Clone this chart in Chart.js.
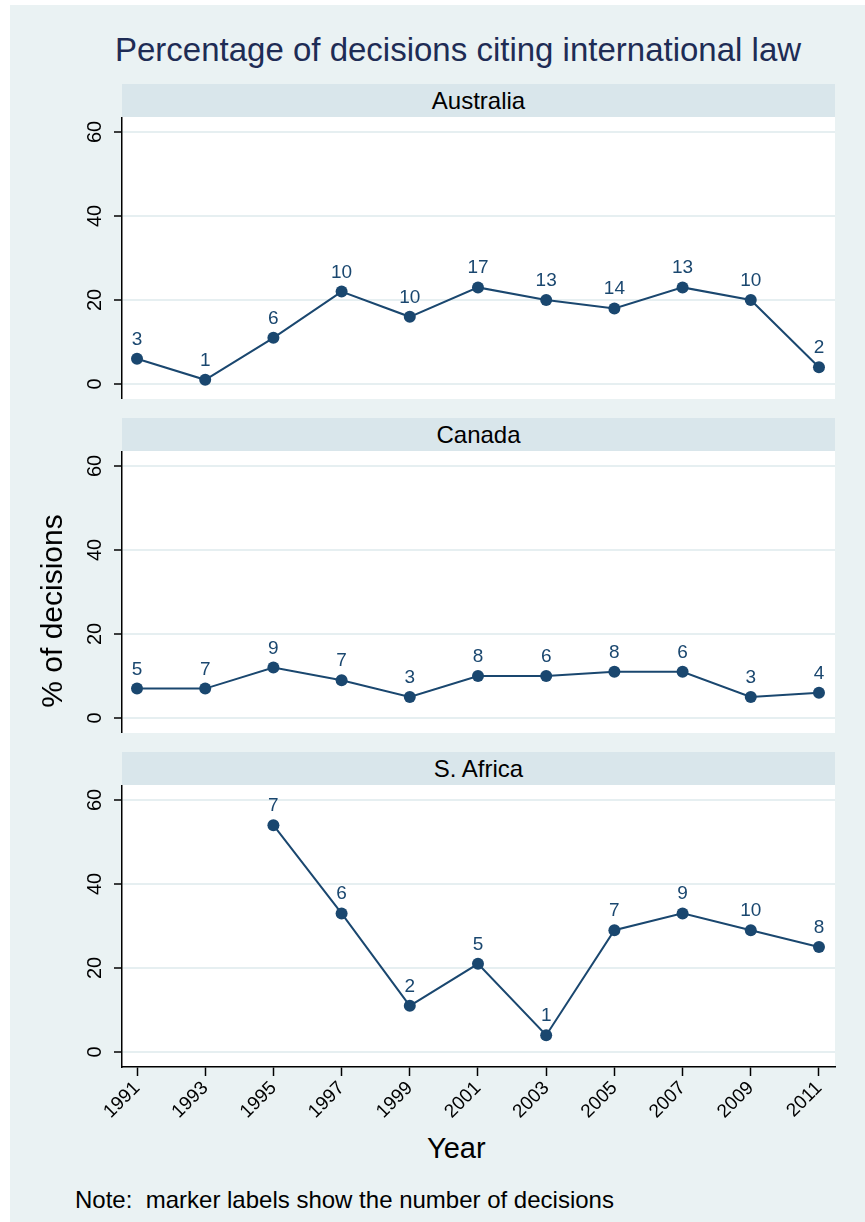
<!DOCTYPE html>
<html>
<head>
<meta charset="utf-8">
<script src="https://cdn.jsdelivr.net/npm/chart.js@4.4.1/dist/chart.umd.min.js"></script>
<style>
  html, body { margin: 0; padding: 0; background: #fff; }
  #page { position: relative; width: 865px; height: 1222px; overflow: hidden; font-family: "Liberation Sans", Arial, sans-serif; }
  #bg { position: absolute; left: 10px; top: 5px; right: 0; bottom: 0; background: #eaf2f3; }
  .txt { position: absolute; white-space: nowrap; line-height: 1; }
  .strip { position: absolute; left: 122px; width: 713px; height: 33px; background: #d9e6eb; text-align: center; line-height: 33px; font-size: 24px; color: #000; }
  canvas { position: absolute; left: 0; }
</style>
</head>
<body>
<div id="page">
  <div id="bg"></div>
  <div class="txt" style="left:115px; top:33px; font-size:33px; color:#1e2c55;">Percentage of decisions citing international law</div>

  <div class="strip" style="top:84px;">Australia</div>
  <canvas id="aus" width="865" height="282" style="top:117px;"></canvas>

  <div class="strip" style="top:418px;">Canada</div>
  <canvas id="can" width="865" height="282" style="top:451px;"></canvas>

  <div class="strip" style="top:752px;">S. Africa</div>
  <canvas id="zaf" width="865" height="342" style="top:785px;"></canvas>

  <div class="txt" style="left:-98px; top:596px; width:300px; height:30px; line-height:30px; text-align:center; font-size:30px; color:#000; transform:rotate(-90deg);">% of decisions</div>
  <div class="txt" style="left:427px; top:1134px; font-size:29px; color:#000;">Year</div>
  <div class="txt" style="left:75px; top:1188px; font-size:24px; color:#000;">Note:&nbsp; marker labels show the number of decisions</div>
</div>

<script>
// values
const years = [1991, 1993, 1995, 1997, 1999, 2001, 2003, 2005, 2007, 2009, 2011]

const ausPct = [6, 1, 11, 22, 16, 23, 20, 18, 23, 20, 4]
const ausCount = [3, 1, 6, 10, 10, 17, 13, 14, 13, 10, 2]

const canPct = [7, 7, 12, 9, 5, 10, 10, 11, 11, 5, 6]
const canCount = [5, 7, 9, 7, 3, 8, 6, 8, 6, 3, 4]

const zafPct = [null, null, 54, 33, 11, 21, 4, 29, 33, 29, 25]
const zafCount = [null, null, 7, 6, 2, 5, 1, 7, 9, 10, 8]

const yTicks = [0, 20, 40, 60]

const NAVY = '#1a476f'
const FONT = '"Liberation Sans", Arial, sans-serif'

const plotBackground = {
  id: 'plotBackground',
  beforeDraw(chart) {
    const { ctx, chartArea } = chart
    ctx.save()
    ctx.fillStyle = '#fff'
    ctx.fillRect(chartArea.left, chartArea.top, chartArea.right - chartArea.left, chartArea.bottom - chartArea.top)
    ctx.restore()
  }
}

// y tick labels in Stata style, turned on their side
const sideTickLabels = {
  id: 'sideTickLabels',
  afterDraw(chart) {
    const { ctx } = chart
    const scale = chart.scales.y
    ctx.save()
    ctx.font = '20px ' + FONT
    ctx.fillStyle = '#000'
    ctx.textAlign = 'center'
    ctx.textBaseline = 'middle'
    yTicks.forEach(v => {
      ctx.save()
      ctx.translate(95, scale.getPixelForValue(v))
      ctx.rotate(-Math.PI / 2)
      ctx.fillText(String(v), 0, 0)
      ctx.restore()
    })
    ctx.restore()
  }
}

function markerLabels(counts) {
  return {
    id: 'markerLabels',
    afterDatasetsDraw(chart) {
      const { ctx } = chart
      const points = chart.getDatasetMeta(0).data
      ctx.save()
      ctx.font = '19px ' + FONT
      ctx.fillStyle = NAVY
      ctx.textAlign = 'center'
      ctx.textBaseline = 'alphabetic'
      points.forEach((pt, i) => {
        if (counts[i] == null || pt.skip) return
        ctx.fillText(String(counts[i]), pt.x, pt.y - 14)
      })
      ctx.restore()
    }
  }
}

function makePanel(id, pct, counts, showX) {
  const canvas = document.getElementById(id)
  return new Chart(canvas, {
    type: 'line',
    data: {
      datasets: [{
        data: years.map((yr, i) => ({ x: yr, y: pct[i] })),
        borderColor: NAVY,
        backgroundColor: NAVY,
        borderWidth: 2,
        pointRadius: 6,
        pointHoverRadius: 6,
        pointBorderWidth: 0,
        tension: 0,
        clip: false
      }]
    },
    options: {
      responsive: false,
      animation: false,
      events: [],
      layout: { autoPadding: false, padding: { left: 0, right: 30, top: 0, bottom: 0 } },
      plugins: { legend: { display: false }, tooltip: { enabled: false } },
      scales: {
        x: {
          type: 'linear',
          min: 1990.56,
          max: 2011.47,
          display: showX,
          afterBuildTicks: s => { s.ticks = years.map(v => ({ value: v })) },
          afterFit: s => { s.height = showX ? 60 : 0 },
          grid: { drawOnChartArea: false, drawTicks: true, tickLength: 9, tickColor: '#000', tickWidth: 1.5 },
          border: { color: '#000', width: 1.5 },
          ticks: {
            minRotation: 45,
            maxRotation: 45,
            autoSkip: false,
            padding: 1,
            color: '#000',
            font: { family: FONT, size: 19 },
            callback: v => String(v)
          }
        },
        y: {
          type: 'linear',
          min: -3.57,
          max: 63.57,
          afterBuildTicks: s => { s.ticks = yTicks.map(v => ({ value: v })) },
          afterFit: s => { s.width = 122 },
          ticks: { display: false },
          grid: { color: '#e6eff1', lineWidth: 2, drawTicks: true, tickLength: 8, tickColor: '#000', tickWidth: 1.5 },
          border: { color: '#000', width: 1.5 }
        }
      }
    },
    plugins: [plotBackground, sideTickLabels, markerLabels(counts)]
  })
}

makePanel('aus', ausPct, ausCount, false)
makePanel('can', canPct, canCount, false)
makePanel('zaf', zafPct, zafCount, true)
</script>
</body>
</html>
